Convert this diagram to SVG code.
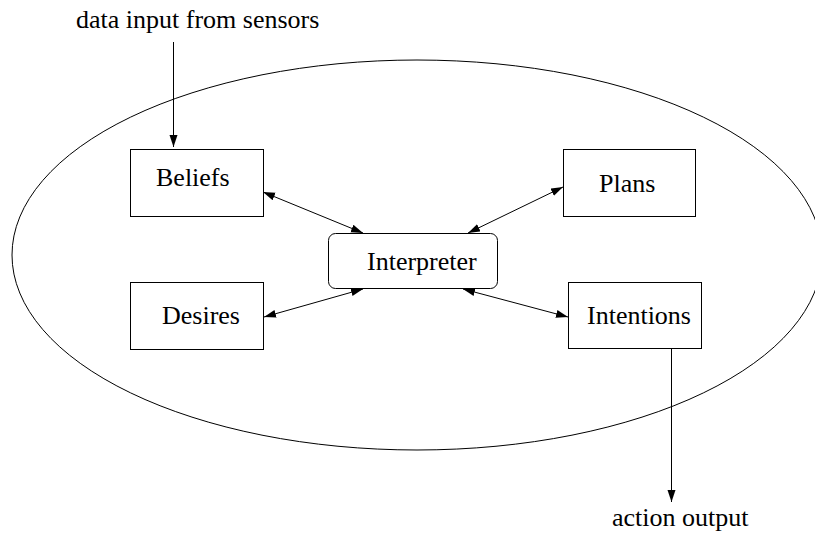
<svg xmlns="http://www.w3.org/2000/svg" width="815" height="533" viewBox="0 0 815 533">
  <style>
    .box { fill: #ffffff; stroke: #000000; stroke-width: 1; }
    .lbl { font-family: "Liberation Serif", "Times New Roman", serif; font-size: 26px; fill: #000000; }
    .edge { fill: none; stroke: #000000; stroke-width: 1; }
  </style>
  <defs>
    <marker id="arrow" markerUnits="userSpaceOnUse" markerWidth="13" markerHeight="9" refX="12" refY="4" orient="auto-start-reverse">
      <path d="M0,0 L12,4 L0,8 z" fill="#000000"/>
    </marker>
  </defs>

  <!-- agent boundary -->
  <ellipse cx="417" cy="255" rx="405" ry="195" fill="none" stroke="#000000" stroke-width="1"/>

  <text class="lbl" x="76" y="28">data input from sensors</text>
  <text class="lbl" x="612" y="526">action output</text>

  <g id="beliefs">
    <rect class="box" x="130.5" y="149.5" width="133" height="67"/>
    <text class="lbl" x="156" y="186">Beliefs</text>
  </g>
  <g id="plans">
    <rect class="box" x="563.5" y="149.5" width="132" height="67"/>
    <text class="lbl" x="599" y="192">Plans</text>
  </g>
  <g id="interpreter">
    <rect class="box" x="328.5" y="233.5" width="169" height="55" rx="7" ry="7"/>
    <text class="lbl" x="367" y="270">Interpreter</text>
  </g>
  <g id="desires">
    <rect class="box" x="130.5" y="282.5" width="133" height="67"/>
    <text class="lbl" x="162" y="324">Desires</text>
  </g>
  <g id="intentions">
    <rect class="box" x="568.5" y="282.5" width="133" height="66"/>
    <text class="lbl" x="587" y="324">Intentions</text>
  </g>

  <g id="connectors">
    <line class="edge" x1="173.5" y1="42" x2="173.5" y2="147" marker-end="url(#arrow)"/>
    <line class="edge" x1="671.5" y1="349" x2="671.5" y2="502" marker-end="url(#arrow)"/>
    <line class="edge" x1="263" y1="192" x2="363" y2="233" marker-start="url(#arrow)" marker-end="url(#arrow)"/>
    <line class="edge" x1="563" y1="187" x2="468" y2="233" marker-start="url(#arrow)" marker-end="url(#arrow)"/>
    <line class="edge" x1="264" y1="317" x2="363" y2="289" marker-start="url(#arrow)" marker-end="url(#arrow)"/>
    <line class="edge" x1="568" y1="317" x2="463" y2="289" marker-start="url(#arrow)" marker-end="url(#arrow)"/>
  </g>
</svg>
